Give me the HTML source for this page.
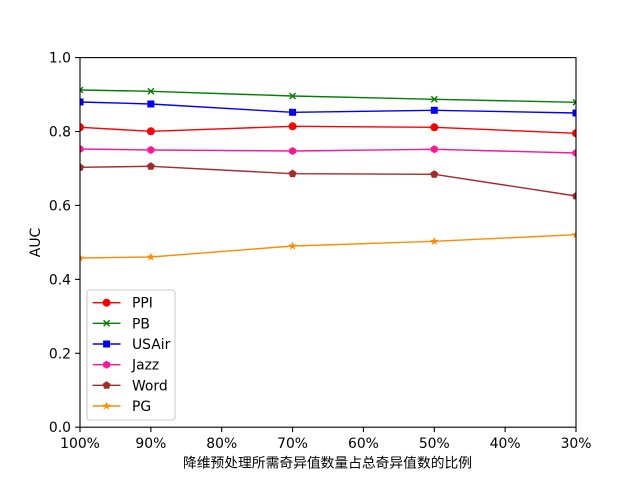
<!DOCTYPE html>
<html>
<head>
<meta charset="utf-8">
<style>
html,body{margin:0;padding:0;background:#fff;}
svg{display:block;}
text{font-family:"DejaVu Sans","Liberation Sans","Noto Sans CJK SC",sans-serif;font-size:13.9px;fill:#000;}
.cjk{font-family:"Noto Sans CJK SC","WenQuanYi Zen Hei",sans-serif;}
</style>
</head>
<body>
<svg width="640" height="480" viewBox="0 0 640 480" xmlns="http://www.w3.org/2000/svg">
<defs>
<clipPath id="ax"><rect x="80" y="57.6" width="496" height="369.6"/></clipPath>
<circle id="mo" r="4" />
<rect id="ms" x="-3.5" y="-3.5" width="7" height="7"/>
<polygon id="mh" points="0,-4 3.46,-2 3.46,2 0,4 -3.46,2 -3.46,-2"/>
<polygon id="mp" points="0,-4.2 4,-1.3 2.47,3.4 -2.47,3.4 -4,-1.3"/>
<polygon id="mstar" points="0,-4.5 1.06,-1.46 4.28,-1.39 1.71,0.56 2.65,3.64 0,1.8 -2.65,3.64 -1.71,0.56 -4.28,-1.39 -1.06,-1.46"/>
<path id="mx" d="M-3,-3L3,3M-3,3L3,-3"/>
</defs>
<rect width="640" height="480" fill="#fff"/>

<g clip-path="url(#ax)">
<!-- PB -->
<polyline fill="none" stroke="#008000" stroke-width="1.4" points="80,90 150.86,91.3 292.57,96 434.29,99.3 576,102.3"/>
<g stroke="#008000" stroke-width="1.4">
<use href="#mx" x="80" y="90"/><use href="#mx" x="150.86" y="91.3"/><use href="#mx" x="292.57" y="96"/><use href="#mx" x="434.29" y="99.3"/><use href="#mx" x="576" y="102.3"/>
</g>
<!-- USAir -->
<polyline fill="none" stroke="#0000ff" stroke-width="1.4" points="80,102 150.86,104 292.57,112.3 434.29,110.3 576,113"/>
<g fill="#0000ff">
<use href="#ms" x="80" y="102"/><use href="#ms" x="150.86" y="104"/><use href="#ms" x="292.57" y="112.3"/><use href="#ms" x="434.29" y="110.3"/><use href="#ms" x="576" y="113"/>
</g>
<!-- PPI -->
<polyline fill="none" stroke="#ff0000" stroke-width="1.4" points="80,127.3 150.86,131.3 292.57,126.3 434.29,127.3 576,133.3"/>
<g fill="#ff0000">
<use href="#mo" x="80" y="127.3"/><use href="#mo" x="150.86" y="131.3"/><use href="#mo" x="292.57" y="126.3"/><use href="#mo" x="434.29" y="127.3"/><use href="#mo" x="576" y="133.3"/>
</g>
<!-- Jazz -->
<polyline fill="none" stroke="#ff1493" stroke-width="1.4" points="80,149 150.86,150 292.57,151 434.29,149.3 576,153"/>
<g fill="#ff1493">
<use href="#mh" x="80" y="149"/><use href="#mh" x="150.86" y="150"/><use href="#mh" x="292.57" y="151"/><use href="#mh" x="434.29" y="149.3"/><use href="#mh" x="576" y="153"/>
</g>
<!-- Word -->
<polyline fill="none" stroke="#a52a2a" stroke-width="1.4" points="80,167.3 150.86,166.3 292.57,173.7 434.29,174.3 576,196"/>
<g fill="#a52a2a">
<use href="#mp" x="80" y="167.3"/><use href="#mp" x="150.86" y="166.3"/><use href="#mp" x="292.57" y="173.7"/><use href="#mp" x="434.29" y="174.3"/><use href="#mp" x="576" y="196"/>
</g>
<!-- PG -->
<polyline fill="none" stroke="#ff8c00" stroke-width="1.4" points="80,258 150.86,257 292.57,246 434.29,241.3 576,234.7"/>
<g fill="#ff8c00">
<use href="#mstar" x="80" y="258"/><use href="#mstar" x="150.86" y="257"/><use href="#mstar" x="292.57" y="246"/><use href="#mstar" x="434.29" y="241.3"/><use href="#mstar" x="576" y="234.7"/>
</g>
</g>

<!-- frame -->
<rect x="80" y="57.6" width="496" height="369.6" fill="none" stroke="#000" stroke-width="1.1"/>

<!-- x ticks -->
<g stroke="#000" stroke-width="1.1">
<line x1="80" y1="427.2" x2="80" y2="432.1"/>
<line x1="150.86" y1="427.2" x2="150.86" y2="432.1"/>
<line x1="221.71" y1="427.2" x2="221.71" y2="432.1"/>
<line x1="292.57" y1="427.2" x2="292.57" y2="432.1"/>
<line x1="363.43" y1="427.2" x2="363.43" y2="432.1"/>
<line x1="434.29" y1="427.2" x2="434.29" y2="432.1"/>
<line x1="505.14" y1="427.2" x2="505.14" y2="432.1"/>
<line x1="576" y1="427.2" x2="576" y2="432.1"/>
</g>
<g text-anchor="middle">
<text x="80" y="448">100%</text>
<text x="150.86" y="448">90%</text>
<text x="221.71" y="448">80%</text>
<text x="292.57" y="448">70%</text>
<text x="363.43" y="448">60%</text>
<text x="434.29" y="448">50%</text>
<text x="505.14" y="448">40%</text>
<text x="576" y="448">30%</text>
</g>

<!-- y ticks -->
<g stroke="#000" stroke-width="1.1">
<line x1="75.1" y1="427.2" x2="80" y2="427.2"/>
<line x1="75.1" y1="353.3" x2="80" y2="353.3"/>
<line x1="75.1" y1="279.4" x2="80" y2="279.4"/>
<line x1="75.1" y1="205.4" x2="80" y2="205.4"/>
<line x1="75.1" y1="131.5" x2="80" y2="131.5"/>
<line x1="75.1" y1="57.6" x2="80" y2="57.6"/>
</g>
<g text-anchor="end">
<text x="71" y="432.2">0.0</text>
<text x="71" y="358.3">0.2</text>
<text x="71" y="284.4">0.4</text>
<text x="71" y="210.4">0.6</text>
<text x="71" y="136.5">0.8</text>
<text x="71" y="62.6">1.0</text>
</g>

<!-- axis labels -->
<text x="327.5" y="467.5" text-anchor="middle" class="cjk" textLength="289" lengthAdjust="spacingAndGlyphs">降维预处理所需奇异值数量占总奇异值数的比例</text>
<text transform="translate(40,242.5) rotate(-90)" text-anchor="middle">AUC</text>

<!-- legend -->
<rect x="87" y="290" width="88" height="130" rx="2.8" ry="2.8" fill="#fff" fill-opacity="0.8" stroke="#cccccc" stroke-width="1.1"/>
<line x1="92.7" y1="302.7" x2="120.5" y2="302.7" stroke="#ff0000" stroke-width="1.4"/>
<use href="#mo" x="106.6" y="302.7" fill="#ff0000"/>
<text x="132" y="307.7">PPI</text>
<line x1="92.7" y1="323.3" x2="120.5" y2="323.3" stroke="#008000" stroke-width="1.4"/>
<use href="#mx" x="106.6" y="323.3" stroke="#008000" stroke-width="1.4"/>
<text x="132" y="328.3">PB</text>
<line x1="92.7" y1="344" x2="120.5" y2="344" stroke="#0000ff" stroke-width="1.4"/>
<use href="#ms" x="106.6" y="344" fill="#0000ff"/>
<text x="132" y="349">USAir</text>
<line x1="92.7" y1="364.7" x2="120.5" y2="364.7" stroke="#ff1493" stroke-width="1.4"/>
<use href="#mh" x="106.6" y="364.7" fill="#ff1493"/>
<text x="132" y="369.7">Jazz</text>
<line x1="92.7" y1="385.3" x2="120.5" y2="385.3" stroke="#a52a2a" stroke-width="1.4"/>
<use href="#mp" x="106.6" y="385.3" fill="#a52a2a"/>
<text x="132" y="390.3">Word</text>
<line x1="92.7" y1="406" x2="120.5" y2="406" stroke="#ff8c00" stroke-width="1.4"/>
<use href="#mstar" x="106.6" y="406" fill="#ff8c00"/>
<text x="132" y="411">PG</text>
</svg>
</body>
</html>
